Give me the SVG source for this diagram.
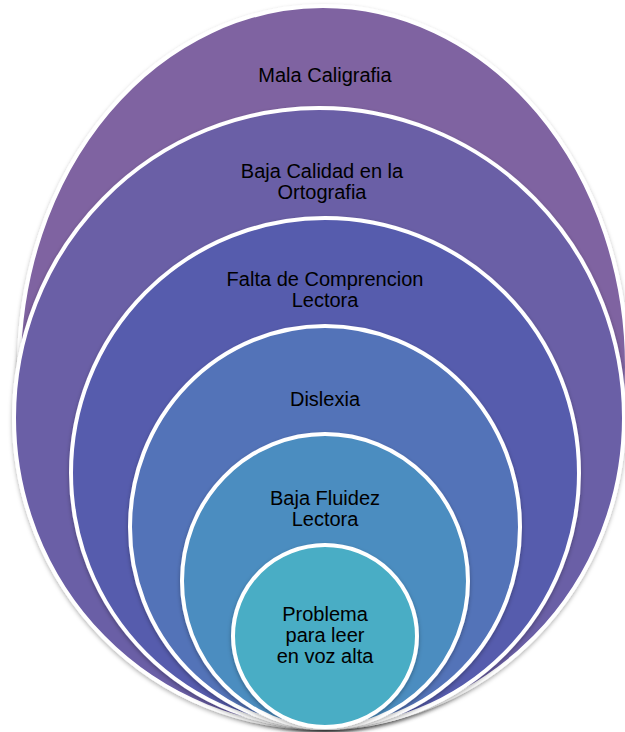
<svg xmlns="http://www.w3.org/2000/svg" width="625" height="732" viewBox="0 0 625 732">
<defs>
<filter id="sh" x="-10%" y="-10%" width="120%" height="120%">
<feDropShadow dx="0" dy="2" stdDeviation="2" flood-color="#000" flood-opacity="0.3"/>
</filter>
</defs>
<style>
.e{stroke:#fff;stroke-width:4;filter:url(#sh)}
.t{font-family:"Liberation Sans",Arial,sans-serif;font-size:20px;fill:#000;text-anchor:middle}
</style>
<rect width="625" height="732" fill="#fff"/>
<g id="n1">
<ellipse class="e" cx="323" cy="367" rx="304" ry="361" fill="#7F63A1"/>
<text class="t" x="325" y="82">Mala Caligrafia</text>
</g>
<g id="n2">
<ellipse class="e" cx="319" cy="418" rx="305" ry="310" fill="#6B5EA6"/>
<text class="t" x="322" y="178">Baja Calidad en la</text>
<text class="t" x="322" y="199">Ortografia</text>
</g>
<g id="n3">
<ellipse class="e" cx="325" cy="473" rx="254" ry="255" fill="#575CAD"/>
<text class="t" x="325" y="286">Falta de Comprencion</text>
<text class="t" x="325" y="307">Lectora</text>
</g>
<g id="n4">
<ellipse class="e" cx="325" cy="527" rx="195" ry="201" fill="#5373B8"/>
<text class="t" x="325" y="406">Dislexia</text>
</g>
<g id="n5">
<ellipse class="e" cx="325" cy="581" rx="143" ry="147" fill="#4C8DC0"/>
<text class="t" x="325" y="505">Baja Fluidez</text>
<text class="t" x="325" y="526">Lectora</text>
</g>
<g id="n6">
<ellipse class="e" cx="325" cy="636" rx="92" ry="91" fill="#4AADC5"/>
<text class="t" x="325" y="621">Problema</text>
<text class="t" x="325" y="642">para leer</text>
<text class="t" x="325" y="663">en voz alta</text>
</g>
</svg>
